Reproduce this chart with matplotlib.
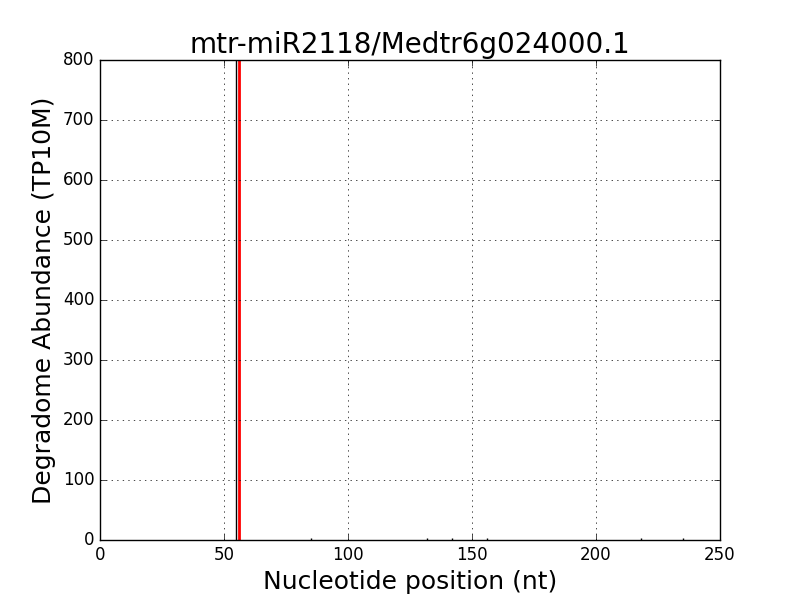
import matplotlib
matplotlib.use('Agg')
import matplotlib.pyplot as plt

# degradome reads (position, abundance)
positions = [55, 85, 132, 142, 156, 218, 235]
abundance = [800, 3, 3, 3, 3, 3, 3]
cleave_site = 56

plt.style.use('classic')
fig = plt.figure(figsize=(8, 6), dpi=100)
ax = fig.add_subplot(111)
ax.vlines(positions, 0, abundance, colors='black', linewidth=1)
ax.axvline(cleave_site, color='red', linewidth=2)
ax.set_xlim(0, 250)
ax.set_ylim(0, 800)
ax.grid(True)
ax.set_title('mtr-miR2118/Medtr6g024000.1', fontsize=20)
ax.set_xlabel('Nucleotide position (nt)', fontsize=18)
ax.set_ylabel('Degradome Abundance (TP10M)', fontsize=18)
fig.savefig('out.png', facecolor='white')
